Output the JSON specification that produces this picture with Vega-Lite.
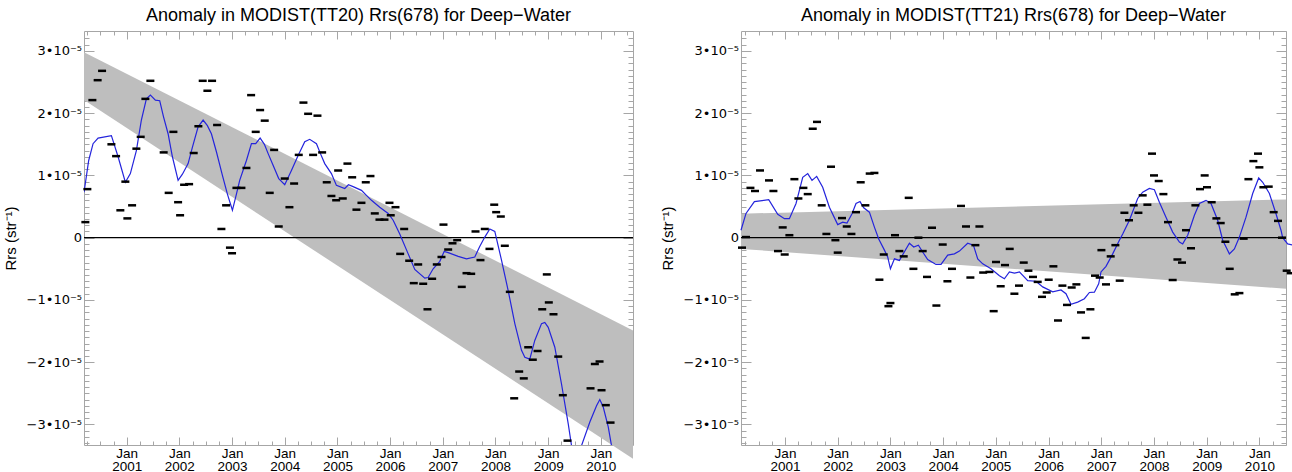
{
  "$schema": "https://vega.github.io/schema/vega-lite/v6.json",
  "padding": {"left": 3, "top": 6, "right": 4, "bottom": 0},
  "spacing": 26,
  "config": {
    "font": "Liberation Sans",
    "view": {"stroke": null},
    "title": {"font": "Liberation Sans", "fontSize": 18, "fontWeight": "normal", "color": "#000", "anchor": "middle", "frame": "group", "offset": 6},
    "axis": {"grid": false, "zindex": 1, "domainColor": "#a6a6a6", "tickColor": "#a6a6a6", "labelColor": "#000", "labelFont": "Liberation Sans", "labelFontSize": 13.5, "titleFont": "Liberation Sans", "titleFontSize": 15, "titleFontWeight": "normal", "titleColor": "#000", "labelOverlap": false, "labelFlush": false, "tickWidth": 1, "domainWidth": 1},
    "axisY": {"labelFont": "DejaVu Sans", "labelFontSize": 13}
  },
  "datasets": {
    "band20": [
      {"t": 2000.19, "lo": 2.21e-5, "hi": 2.98e-5},
      {"t": 2010.61, "lo": -3.55e-5, "hi": -1.49e-5}
    ],
    "band21": [
      {"t": 2000.165, "lo": -0.18e-5, "hi": 0.385e-5},
      {"t": 2010.505, "lo": -0.82e-5, "hi": 0.615e-5}
    ],
    "pts20": [
      {"t": 2000.216, "rrs": 0.25e-5}, {"t": 2000.254, "rrs": 0.78e-5}, {"t": 2000.349, "rrs": 2.21e-5}, {"t": 2000.449, "rrs": 2.53e-5}, {"t": 2000.533, "rrs": 2.68e-5}, {"t": 2000.710, "rrs": 1.50e-5}, {"t": 2000.799, "rrs": 1.31e-5}, {"t": 2000.880, "rrs": 0.44e-5}, {"t": 2000.975, "rrs": 0.90e-5}, {"t": 2001.013, "rrs": 0.31e-5},
      {"t": 2001.103, "rrs": 0.52e-5}, {"t": 2001.184, "rrs": 1.43e-5}, {"t": 2001.266, "rrs": 1.62e-5}, {"t": 2001.355, "rrs": 2.23e-5}, {"t": 2001.450, "rrs": 2.52e-5}, {"t": 2001.702, "rrs": 1.37e-5}, {"t": 2001.797, "rrs": 0.72e-5}, {"t": 2001.887, "rrs": 1.70e-5}, {"t": 2001.976, "rrs": 0.57e-5}, {"t": 2002.014, "rrs": 0.36e-5},
      {"t": 2002.090, "rrs": 0.85e-5}, {"t": 2002.185, "rrs": 0.86e-5}, {"t": 2002.272, "rrs": 1.36e-5}, {"t": 2002.361, "rrs": 1.79e-5}, {"t": 2002.443, "rrs": 2.52e-5}, {"t": 2002.532, "rrs": 2.36e-5}, {"t": 2002.621, "rrs": 2.52e-5}, {"t": 2002.716, "rrs": 1.81e-5}, {"t": 2002.798, "rrs": 0.14e-5}, {"t": 2002.887, "rrs": 0.52e-5},
      {"t": 2002.96, "rrs": -0.16e-5}, {"t": 2003.00, "rrs": -0.25e-5}, {"t": 2003.083, "rrs": 0.80e-5}, {"t": 2003.178, "rrs": 0.80e-5}, {"t": 2003.273, "rrs": 1.12e-5}, {"t": 2003.362, "rrs": 2.29e-5}, {"t": 2003.449, "rrs": 1.70e-5}, {"t": 2003.533, "rrs": 2.05e-5}, {"t": 2003.620, "rrs": 1.88e-5}, {"t": 2003.715, "rrs": 0.72e-5},
      {"t": 2003.799, "rrs": 1.41e-5}, {"t": 2003.886, "rrs": 0.18e-5}, {"t": 2004.000, "rrs": 0.95e-5}, {"t": 2004.089, "rrs": 0.49e-5}, {"t": 2004.178, "rrs": 0.87e-5}, {"t": 2004.266, "rrs": 1.33e-5}, {"t": 2004.355, "rrs": 2.17e-5}, {"t": 2004.444, "rrs": 1.99e-5}, {"t": 2004.539, "rrs": 1.33e-5}, {"t": 2004.621, "rrs": 1.96e-5},
      {"t": 2004.710, "rrs": 1.37e-5}, {"t": 2004.797, "rrs": 0.89e-5}, {"t": 2004.886, "rrs": 0.67e-5}, {"t": 2004.976, "rrs": 0.60e-5}, {"t": 2005.014, "rrs": 1.08e-5}, {"t": 2005.101, "rrs": 0.63e-5}, {"t": 2005.190, "rrs": 1.19e-5}, {"t": 2005.280, "rrs": 0.97e-5}, {"t": 2005.361, "rrs": 0.45e-5}, {"t": 2005.456, "rrs": 0.56e-5},
      {"t": 2005.538, "rrs": 0.89e-5}, {"t": 2005.627, "rrs": 0.99e-5}, {"t": 2005.709, "rrs": 0.39e-5}, {"t": 2005.798, "rrs": 0.29e-5}, {"t": 2005.893, "rrs": 0.29e-5}, {"t": 2005.988, "rrs": 0.56e-5}, {"t": 2006.012, "rrs": 0.36e-5}, {"t": 2006.102, "rrs": 0.49e-5}, {"t": 2006.191, "rrs": -0.26e-5}, {"t": 2006.267, "rrs": 0.14e-5},
      {"t": 2006.362, "rrs": -0.37e-5}, {"t": 2006.449, "rrs": -0.73e-5}, {"t": 2006.533, "rrs": -0.43e-5}, {"t": 2006.628, "rrs": -0.74e-5}, {"t": 2006.709, "rrs": -1.15e-5}, {"t": 2006.798, "rrs": -0.66e-5}, {"t": 2006.886, "rrs": -0.43e-5}, {"t": 2006.975, "rrs": -0.31e-5}, {"t": 2007.013, "rrs": 0.21e-5}, {"t": 2007.102, "rrs": -0.19e-5},
      {"t": 2007.184, "rrs": -0.09e-5}, {"t": 2007.273, "rrs": -0.04e-5}, {"t": 2007.360, "rrs": -0.79e-5}, {"t": 2007.450, "rrs": -0.57e-5}, {"t": 2007.539, "rrs": -0.58e-5}, {"t": 2007.621, "rrs": 0.10e-5}, {"t": 2007.715, "rrs": -0.36e-5}, {"t": 2007.797, "rrs": 0.14e-5}, {"t": 2007.886, "rrs": -0.18e-5}, {"t": 2007.976, "rrs": 0.53e-5},
      {"t": 2008.013, "rrs": 0.41e-5}, {"t": 2008.101, "rrs": 0.34e-5}, {"t": 2008.177, "rrs": -0.13e-5}, {"t": 2008.272, "rrs": -0.87e-5}, {"t": 2008.355, "rrs": -2.58e-5}, {"t": 2008.450, "rrs": -2.15e-5}, {"t": 2008.537, "rrs": -2.26e-5}, {"t": 2008.621, "rrs": -1.76e-5}, {"t": 2008.708, "rrs": -1.96e-5}, {"t": 2008.798, "rrs": -1.82e-5},
      {"t": 2008.887, "rrs": -1.15e-5}, {"t": 2008.974, "rrs": -0.59e-5}, {"t": 2009.012, "rrs": -1.04e-5}, {"t": 2009.101, "rrs": -1.23e-5}, {"t": 2009.191, "rrs": -1.91e-5}, {"t": 2009.278, "rrs": -2.53e-5}, {"t": 2009.367, "rrs": -3.26e-5}, {"t": 2009.804, "rrs": -2.42e-5}, {"t": 2009.886, "rrs": -2.03e-5}, {"t": 2009.975, "rrs": -1.99e-5},
      {"t": 2010.013, "rrs": -2.45e-5}, {"t": 2010.094, "rrs": -2.69e-5}, {"t": 2010.184, "rrs": -2.97e-5}
    ],
    "line20": [
      {"t": 2000.191, "rrs": 0.73e-5}, {"t": 2000.279, "rrs": 1.24e-5}, {"t": 2000.362, "rrs": 1.51e-5}, {"t": 2000.457, "rrs": 1.60e-5}, {"t": 2000.710, "rrs": 1.64e-5}, {"t": 2000.837, "rrs": 1.30e-5}, {"t": 2000.975, "rrs": 0.89e-5}, {"t": 2001.070, "rrs": 1.03e-5}, {"t": 2001.184, "rrs": 1.40e-5}, {"t": 2001.279, "rrs": 1.89e-5},
      {"t": 2001.374, "rrs": 2.23e-5}, {"t": 2001.450, "rrs": 2.29e-5}, {"t": 2001.545, "rrs": 2.21e-5}, {"t": 2001.627, "rrs": 2.20e-5}, {"t": 2001.697, "rrs": 1.95e-5}, {"t": 2001.786, "rrs": 1.67e-5}, {"t": 2001.868, "rrs": 1.30e-5}, {"t": 2001.976, "rrs": 0.92e-5}, {"t": 2002.058, "rrs": 1.02e-5}, {"t": 2002.166, "rrs": 1.19e-5},
      {"t": 2002.247, "rrs": 1.45e-5}, {"t": 2002.356, "rrs": 1.78e-5}, {"t": 2002.451, "rrs": 1.89e-5}, {"t": 2002.532, "rrs": 1.80e-5}, {"t": 2002.608, "rrs": 1.67e-5}, {"t": 2002.703, "rrs": 1.38e-5}, {"t": 2002.817, "rrs": 1.00e-5}, {"t": 2002.912, "rrs": 0.70e-5}, {"t": 2003.007, "rrs": 0.44e-5}, {"t": 2003.083, "rrs": 0.70e-5},
      {"t": 2003.145, "rrs": 0.92e-5}, {"t": 2003.273, "rrs": 1.24e-5}, {"t": 2003.368, "rrs": 1.51e-5}, {"t": 2003.449, "rrs": 1.51e-5}, {"t": 2003.533, "rrs": 1.60e-5}, {"t": 2003.614, "rrs": 1.50e-5}, {"t": 2003.685, "rrs": 1.35e-5}, {"t": 2003.785, "rrs": 1.15e-5}, {"t": 2003.886, "rrs": 0.95e-5}, {"t": 2004.000, "rrs": 0.85e-5},
      {"t": 2004.127, "rrs": 1.08e-5}, {"t": 2004.254, "rrs": 1.32e-5}, {"t": 2004.380, "rrs": 1.54e-5}, {"t": 2004.474, "rrs": 1.58e-5}, {"t": 2004.602, "rrs": 1.51e-5}, {"t": 2004.678, "rrs": 1.35e-5}, {"t": 2004.759, "rrs": 1.19e-5}, {"t": 2004.886, "rrs": 1.03e-5}, {"t": 2004.981, "rrs": 0.84e-5}, {"t": 2005.139, "rrs": 0.79e-5},
      {"t": 2005.209, "rrs": 0.85e-5}, {"t": 2005.298, "rrs": 0.82e-5}, {"t": 2005.456, "rrs": 0.76e-5}, {"t": 2005.551, "rrs": 0.68e-5}, {"t": 2005.646, "rrs": 0.60e-5}, {"t": 2005.803, "rrs": 0.49e-5}, {"t": 2005.963, "rrs": 0.39e-5}, {"t": 2006.058, "rrs": 0.28e-5}, {"t": 2006.183, "rrs": 0.06e-5}, {"t": 2006.343, "rrs": -0.26e-5},
      {"t": 2006.468, "rrs": -0.51e-5}, {"t": 2006.658, "rrs": -0.65e-5}, {"t": 2006.722, "rrs": -0.64e-5}, {"t": 2006.817, "rrs": -0.50e-5}, {"t": 2006.943, "rrs": -0.38e-5}, {"t": 2007.026, "rrs": -0.22e-5}, {"t": 2007.102, "rrs": -0.24e-5}, {"t": 2007.292, "rrs": -0.30e-5}, {"t": 2007.450, "rrs": -0.34e-5}, {"t": 2007.607, "rrs": -0.31e-5},
      {"t": 2007.696, "rrs": -0.15e-5}, {"t": 2007.797, "rrs": 0.01e-5}, {"t": 2007.892, "rrs": 0.14e-5}, {"t": 2007.987, "rrs": 0.10e-5}, {"t": 2008.114, "rrs": -0.36e-5}, {"t": 2008.241, "rrs": -0.85e-5}, {"t": 2008.367, "rrs": -1.38e-5}, {"t": 2008.494, "rrs": -1.81e-5}, {"t": 2008.557, "rrs": -1.92e-5}, {"t": 2008.651, "rrs": -1.95e-5},
      {"t": 2008.746, "rrs": -1.65e-5}, {"t": 2008.874, "rrs": -1.38e-5}, {"t": 2008.936, "rrs": -1.36e-5}, {"t": 2009.001, "rrs": -1.44e-5}, {"t": 2009.126, "rrs": -1.76e-5}, {"t": 2009.253, "rrs": -2.35e-5}, {"t": 2009.381, "rrs": -2.99e-5}, {"t": 2009.443, "rrs": -3.34e-5}, {"t": 2009.538, "rrs": -3.8e-5}, {"t": 2009.633, "rrs": -3.34e-5},
      {"t": 2009.791, "rrs": -2.96e-5}, {"t": 2009.918, "rrs": -2.70e-5}, {"t": 2009.980, "rrs": -2.60e-5}, {"t": 2010.045, "rrs": -2.72e-5}, {"t": 2010.140, "rrs": -3.04e-5}, {"t": 2010.202, "rrs": -3.34e-5}, {"t": 2010.279, "rrs": -3.6e-5}
    ],
    "pts21": [
      {"t": 2000.184, "rrs": -0.16e-5}, {"t": 2000.260, "rrs": 0.01e-5}, {"t": 2000.344, "rrs": 0.80e-5}, {"t": 2000.431, "rrs": 0.75e-5}, {"t": 2000.526, "rrs": 1.08e-5}, {"t": 2000.696, "rrs": 0.92e-5}, {"t": 2000.780, "rrs": 0.75e-5}, {"t": 2000.867, "rrs": -0.215e-5}, {"t": 2000.956, "rrs": 0.165e-5}, {"t": 2000.994, "rrs": -0.27e-5},
      {"t": 2001.083, "rrs": 0.04e-5}, {"t": 2001.178, "rrs": 0.94e-5}, {"t": 2001.254, "rrs": 0.63e-5}, {"t": 2001.349, "rrs": 0.80e-5}, {"t": 2001.431, "rrs": 0.70e-5}, {"t": 2001.526, "rrs": 1.75e-5}, {"t": 2001.607, "rrs": 1.86e-5}, {"t": 2001.696, "rrs": 0.52e-5}, {"t": 2001.785, "rrs": 0.06e-5}, {"t": 2001.873, "rrs": 1.14e-5},
      {"t": 2001.956, "rrs": -0.04e-5}, {"t": 2002.000, "rrs": -0.24e-5}, {"t": 2002.081, "rrs": 0.315e-5}, {"t": 2002.171, "rrs": 0.18e-5}, {"t": 2002.260, "rrs": 0.06e-5}, {"t": 2002.347, "rrs": 0.41e-5}, {"t": 2002.436, "rrs": 0.89e-5}, {"t": 2002.525, "rrs": 0.52e-5}, {"t": 2002.607, "rrs": 1.03e-5}, {"t": 2002.696, "rrs": 1.04e-5},
      {"t": 2002.791, "rrs": -0.675e-5}, {"t": 2002.873, "rrs": -0.27e-5}, {"t": 2002.962, "rrs": -1.10e-5}, {"t": 2003.000, "rrs": -1.05e-5}, {"t": 2003.087, "rrs": 0.04e-5}, {"t": 2003.170, "rrs": -0.215e-5}, {"t": 2003.252, "rrs": -0.30e-5}, {"t": 2003.347, "rrs": 0.64e-5}, {"t": 2003.436, "rrs": -0.50e-5}, {"t": 2003.531, "rrs": 0.0},
      {"t": 2003.612, "rrs": -0.215e-5}, {"t": 2003.694, "rrs": -0.63e-5}, {"t": 2003.789, "rrs": 0.16e-5}, {"t": 2003.872, "rrs": -1.09e-5}, {"t": 2003.992, "rrs": -0.11e-5}, {"t": 2004.081, "rrs": -0.70e-5}, {"t": 2004.168, "rrs": -0.50e-5}, {"t": 2004.339, "rrs": 0.51e-5}, {"t": 2004.434, "rrs": 0.18e-5}, {"t": 2004.517, "rrs": -0.64e-5},
      {"t": 2004.612, "rrs": -0.12e-5}, {"t": 2004.688, "rrs": 0.18e-5}, {"t": 2004.760, "rrs": -0.56e-5}, {"t": 2004.878, "rrs": -0.55e-5}, {"t": 2004.959, "rrs": -1.18e-5}, {"t": 2005.003, "rrs": -0.39e-5}, {"t": 2005.092, "rrs": -0.78e-5}, {"t": 2005.174, "rrs": -0.44e-5}, {"t": 2005.263, "rrs": -0.18e-5}, {"t": 2005.352, "rrs": -0.90e-5},
      {"t": 2005.439, "rrs": -0.77e-5}, {"t": 2005.529, "rrs": -0.40e-5}, {"t": 2005.618, "rrs": -0.53e-5}, {"t": 2005.705, "rrs": -0.63e-5}, {"t": 2005.794, "rrs": -0.71e-5}, {"t": 2005.876, "rrs": -0.95e-5}, {"t": 2005.965, "rrs": -0.88e-5}, {"t": 2006.003, "rrs": -0.675e-5}, {"t": 2006.092, "rrs": -0.46e-5}, {"t": 2006.179, "rrs": -1.33e-5},
      {"t": 2006.263, "rrs": -0.77e-5}, {"t": 2006.350, "rrs": -1.08e-5}, {"t": 2006.439, "rrs": -0.80e-5}, {"t": 2006.528, "rrs": -0.75e-5}, {"t": 2006.616, "rrs": -1.20e-5}, {"t": 2006.705, "rrs": -1.61e-5}, {"t": 2006.794, "rrs": -1.15e-5}, {"t": 2006.881, "rrs": -0.61e-5}, {"t": 2006.970, "rrs": -0.64e-5}, {"t": 2007.003, "rrs": -0.20e-5},
      {"t": 2007.090, "rrs": -0.75e-5}, {"t": 2007.179, "rrs": -0.30e-5}, {"t": 2007.268, "rrs": -0.12e-5}, {"t": 2007.350, "rrs": -0.69e-5}, {"t": 2007.439, "rrs": 0.40e-5}, {"t": 2007.526, "rrs": 0.28e-5}, {"t": 2007.615, "rrs": 0.52e-5}, {"t": 2007.705, "rrs": 0.40e-5}, {"t": 2007.786, "rrs": 0.68e-5}, {"t": 2007.875, "rrs": 0.53e-5},
      {"t": 2007.963, "rrs": 1.35e-5}, {"t": 2008.001, "rrs": 1.00e-5}, {"t": 2008.090, "rrs": 0.91e-5}, {"t": 2008.179, "rrs": 0.70e-5}, {"t": 2008.266, "rrs": 0.25e-5}, {"t": 2008.355, "rrs": -0.68e-5}, {"t": 2008.445, "rrs": -0.35e-5}, {"t": 2008.532, "rrs": -0.40e-5}, {"t": 2008.608, "rrs": 0.12e-5}, {"t": 2008.703, "rrs": -0.17e-5},
      {"t": 2008.786, "rrs": 0.52e-5}, {"t": 2008.873, "rrs": 0.78e-5}, {"t": 2008.962, "rrs": 1.00e-5}, {"t": 2009.006, "rrs": 0.81e-5}, {"t": 2009.095, "rrs": 0.57e-5}, {"t": 2009.184, "rrs": 0.31e-5}, {"t": 2009.266, "rrs": 0.235e-5}, {"t": 2009.355, "rrs": -0.065e-5}, {"t": 2009.437, "rrs": -0.50e-5}, {"t": 2009.532, "rrs": -0.91e-5},
      {"t": 2009.621, "rrs": -0.89e-5}, {"t": 2009.702, "rrs": -0.015e-5}, {"t": 2009.792, "rrs": 0.94e-5}, {"t": 2009.886, "rrs": 1.23e-5}, {"t": 2009.974, "rrs": 1.35e-5}, {"t": 2010.000, "rrs": 1.13e-5}, {"t": 2010.076, "rrs": 0.81e-5}, {"t": 2010.177, "rrs": 0.82e-5}, {"t": 2010.271, "rrs": 0.41e-5}, {"t": 2010.353, "rrs": 0.27e-5},
      {"t": 2010.429, "rrs": 0.0}, {"t": 2010.518, "rrs": -0.53e-5}, {"t": 2010.594, "rrs": -0.57e-5}
    ],
    "line21": [
      {"t": 2000.165, "rrs": 0.12e-5}, {"t": 2000.260, "rrs": 0.39e-5}, {"t": 2000.419, "rrs": 0.58e-5}, {"t": 2000.691, "rrs": 0.61e-5}, {"t": 2000.862, "rrs": 0.375e-5}, {"t": 2000.989, "rrs": 0.305e-5}, {"t": 2001.083, "rrs": 0.305e-5}, {"t": 2001.209, "rrs": 0.55e-5}, {"t": 2001.336, "rrs": 0.97e-5}, {"t": 2001.431, "rrs": 1.03e-5},
      {"t": 2001.512, "rrs": 0.92e-5}, {"t": 2001.601, "rrs": 0.985e-5}, {"t": 2001.715, "rrs": 0.81e-5}, {"t": 2001.842, "rrs": 0.49e-5}, {"t": 2002.000, "rrs": 0.21e-5}, {"t": 2002.095, "rrs": 0.25e-5}, {"t": 2002.176, "rrs": 0.235e-5}, {"t": 2002.271, "rrs": 0.385e-5}, {"t": 2002.347, "rrs": 0.55e-5}, {"t": 2002.423, "rrs": 0.58e-5},
      {"t": 2002.493, "rrs": 0.48e-5}, {"t": 2002.601, "rrs": 0.41e-5}, {"t": 2002.696, "rrs": 0.17e-5}, {"t": 2002.778, "rrs": -0.02e-5}, {"t": 2002.886, "rrs": -0.20e-5}, {"t": 2002.948, "rrs": -0.31e-5}, {"t": 2003.000, "rrs": -0.50e-5}, {"t": 2003.076, "rrs": -0.34e-5}, {"t": 2003.170, "rrs": -0.365e-5}, {"t": 2003.360, "rrs": -0.09e-5},
      {"t": 2003.442, "rrs": -0.15e-5}, {"t": 2003.531, "rrs": -0.12e-5}, {"t": 2003.612, "rrs": -0.23e-5}, {"t": 2003.707, "rrs": -0.35e-5}, {"t": 2003.865, "rrs": -0.43e-5}, {"t": 2003.960, "rrs": -0.43e-5}, {"t": 2004.087, "rrs": -0.28e-5}, {"t": 2004.214, "rrs": -0.26e-5}, {"t": 2004.309, "rrs": -0.215e-5}, {"t": 2004.466, "rrs": -0.09e-5},
      {"t": 2004.574, "rrs": -0.12e-5}, {"t": 2004.656, "rrs": -0.34e-5}, {"t": 2004.751, "rrs": -0.42e-5}, {"t": 2004.908, "rrs": -0.50e-5}, {"t": 2005.068, "rrs": -0.61e-5}, {"t": 2005.162, "rrs": -0.66e-5}, {"t": 2005.257, "rrs": -0.55e-5}, {"t": 2005.352, "rrs": -0.57e-5}, {"t": 2005.447, "rrs": -0.55e-5}, {"t": 2005.605, "rrs": -0.69e-5},
      {"t": 2005.762, "rrs": -0.70e-5}, {"t": 2005.889, "rrs": -0.79e-5}, {"t": 2006.079, "rrs": -0.87e-5}, {"t": 2006.236, "rrs": -0.84e-5}, {"t": 2006.331, "rrs": -0.90e-5}, {"t": 2006.426, "rrs": -1.07e-5}, {"t": 2006.553, "rrs": -1.035e-5}, {"t": 2006.680, "rrs": -0.98e-5}, {"t": 2006.775, "rrs": -0.88e-5}, {"t": 2006.870, "rrs": -0.875e-5},
      {"t": 2006.951, "rrs": -0.74e-5}, {"t": 2006.995, "rrs": -0.55e-5}, {"t": 2007.090, "rrs": -0.46e-5}, {"t": 2007.217, "rrs": -0.26e-5}, {"t": 2007.344, "rrs": -0.04e-5}, {"t": 2007.407, "rrs": 0.06e-5}, {"t": 2007.534, "rrs": 0.28e-5}, {"t": 2007.691, "rrs": 0.63e-5}, {"t": 2007.786, "rrs": 0.73e-5}, {"t": 2007.913, "rrs": 0.79e-5},
      {"t": 2008.008, "rrs": 0.77e-5}, {"t": 2008.103, "rrs": 0.57e-5}, {"t": 2008.228, "rrs": 0.33e-5}, {"t": 2008.355, "rrs": 0.09e-5}, {"t": 2008.483, "rrs": -0.07e-5}, {"t": 2008.545, "rrs": -0.10e-5}, {"t": 2008.640, "rrs": 0.04e-5}, {"t": 2008.767, "rrs": 0.36e-5}, {"t": 2008.862, "rrs": 0.55e-5}, {"t": 2008.987, "rrs": 0.60e-5},
      {"t": 2009.082, "rrs": 0.55e-5}, {"t": 2009.209, "rrs": 0.28e-5}, {"t": 2009.304, "rrs": -0.04e-5}, {"t": 2009.367, "rrs": -0.15e-5}, {"t": 2009.431, "rrs": -0.26e-5}, {"t": 2009.526, "rrs": -0.18e-5}, {"t": 2009.621, "rrs": 0.01e-5}, {"t": 2009.746, "rrs": 0.33e-5}, {"t": 2009.873, "rrs": 0.71e-5}, {"t": 2009.987, "rrs": 0.96e-5},
      {"t": 2010.063, "rrs": 0.89e-5}, {"t": 2010.190, "rrs": 0.71e-5}, {"t": 2010.315, "rrs": 0.385e-5}, {"t": 2010.410, "rrs": 0.12e-5}, {"t": 2010.442, "rrs": 0.0}, {"t": 2010.537, "rrs": -0.10e-5}, {"t": 2010.632, "rrs": -0.12e-5}
    ]
  },
  "hconcat": [
    {
      "width": 549,
      "height": 414,
      "title": {"text": "Anomaly in MODIST(TT20) Rrs(678) for Deep−Water"},
      "resolve": {"axis": {"x": "independent", "y": "independent"}},
      "layer": [
        {
          "data": {"name": "band20"},
          "mark": {"type": "area", "color": "#bebebe", "opacity": 1, "clip": false},
          "encoding": {
            "x": {"field": "t", "type": "quantitative", "scale": {"domain": [2000.19, 2010.61], "nice": false, "zero": false},
              "axis": {"orient": "bottom", "title": null, "values": [2000.25, 2000.5, 2000.75, 2001, 2001.25, 2001.5, 2001.75, 2002, 2002.25, 2002.5, 2002.75, 2003, 2003.25, 2003.5, 2003.75, 2004, 2004.25, 2004.5, 2004.75, 2005, 2005.25, 2005.5, 2005.75, 2006, 2006.25, 2006.5, 2006.75, 2007, 2007.25, 2007.5, 2007.75, 2008, 2008.25, 2008.5, 2008.75, 2009, 2009.25, 2009.5, 2009.75, 2010, 2010.25, 2010.5],
                "labelExpr": "abs(datum.value - round(datum.value)) < 0.01 ? ['Jan', '' + round(datum.value)] : ''",
                "tickSize": {"condition": {"test": "abs(datum.value - round(datum.value)) < 0.01", "value": -8}, "value": -4},
                "labelPadding": 9.5, "labelLineHeight": 12.5, "labelBaseline": "top"}},
            "y": {"field": "lo", "type": "quantitative", "scale": {"domain": [-3.33e-5, 3.32e-5], "nice": false, "zero": false},
              "axis": {"orient": "left", "title": "Rrs (str⁻¹)", "titlePadding": 8,
                "values": [-33e-6, -32e-6, -31e-6, -30e-6, -29e-6, -28e-6, -27e-6, -26e-6, -25e-6, -24e-6, -23e-6, -22e-6, -21e-6, -20e-6, -19e-6, -18e-6, -17e-6, -16e-6, -15e-6, -14e-6, -13e-6, -12e-6, -11e-6, -10e-6, -9e-6, -8e-6, -7e-6, -6e-6, -5e-6, -4e-6, -3e-6, -2e-6, -1e-6, 0, 1e-6, 2e-6, 3e-6, 4e-6, 5e-6, 6e-6, 7e-6, 8e-6, 9e-6, 10e-6, 11e-6, 12e-6, 13e-6, 14e-6, 15e-6, 16e-6, 17e-6, 18e-6, 19e-6, 20e-6, 21e-6, 22e-6, 23e-6, 24e-6, 25e-6, 26e-6, 27e-6, 28e-6, 29e-6, 30e-6, 31e-6, 32e-6],
                "labelExpr": "abs(datum.value*1e5 - round(datum.value*1e5)) < 0.01 ? (round(datum.value*1e5) == 0 ? '0' : (datum.value < 0 ? '−' : '') + abs(round(datum.value*1e5)) + '•10⁻⁵') : ''",
                "tickSize": {"condition": {"test": "abs(datum.value*1e5 - round(datum.value*1e5)) < 0.01", "value": -10}, "value": -5},
                "labelPadding": 12.5}},
            "y2": {"field": "hi"}
          }
        },
        {
          "data": {"values": [{}]},
          "mark": {"type": "rule", "color": "#000", "strokeWidth": 1.3},
          "encoding": {"y": {"datum": 0, "type": "quantitative", "scale": {"domain": [-3.33e-5, 3.32e-5], "nice": false, "zero": false}, "axis": null}}
        },
        {
          "data": {"name": "line20"},
          "mark": {"type": "line", "color": "#2424dc", "strokeWidth": 1.2, "clip": true},
          "encoding": {
            "x": {"field": "t", "type": "quantitative", "scale": {"domain": [2000.19, 2010.61], "nice": false, "zero": false}, "axis": null},
            "y": {"field": "rrs", "type": "quantitative", "scale": {"domain": [-3.33e-5, 3.32e-5], "nice": false, "zero": false}, "axis": null}
          }
        },
        {
          "data": {"name": "pts20"},
          "mark": {"type": "tick", "orient": "horizontal", "size": 8, "thickness": 2.5, "color": "#000", "opacity": 1},
          "encoding": {
            "x": {"field": "t", "type": "quantitative", "scale": {"domain": [2000.19, 2010.61], "nice": false, "zero": false},
              "axis": {"orient": "top", "title": null, "labels": false, "values": [2000.25, 2000.5, 2000.75, 2001, 2001.25, 2001.5, 2001.75, 2002, 2002.25, 2002.5, 2002.75, 2003, 2003.25, 2003.5, 2003.75, 2004, 2004.25, 2004.5, 2004.75, 2005, 2005.25, 2005.5, 2005.75, 2006, 2006.25, 2006.5, 2006.75, 2007, 2007.25, 2007.5, 2007.75, 2008, 2008.25, 2008.5, 2008.75, 2009, 2009.25, 2009.5, 2009.75, 2010, 2010.25, 2010.5],
                "tickSize": {"condition": {"test": "abs(datum.value - round(datum.value)) < 0.01", "value": -8}, "value": -4}}},
            "y": {"field": "rrs", "type": "quantitative", "scale": {"domain": [-3.33e-5, 3.32e-5], "nice": false, "zero": false},
              "axis": {"orient": "right", "title": null, "labels": false,
                "values": [-33e-6, -32e-6, -31e-6, -30e-6, -29e-6, -28e-6, -27e-6, -26e-6, -25e-6, -24e-6, -23e-6, -22e-6, -21e-6, -20e-6, -19e-6, -18e-6, -17e-6, -16e-6, -15e-6, -14e-6, -13e-6, -12e-6, -11e-6, -10e-6, -9e-6, -8e-6, -7e-6, -6e-6, -5e-6, -4e-6, -3e-6, -2e-6, -1e-6, 0, 1e-6, 2e-6, 3e-6, 4e-6, 5e-6, 6e-6, 7e-6, 8e-6, 9e-6, 10e-6, 11e-6, 12e-6, 13e-6, 14e-6, 15e-6, 16e-6, 17e-6, 18e-6, 19e-6, 20e-6, 21e-6, 22e-6, 23e-6, 24e-6, 25e-6, 26e-6, 27e-6, 28e-6, 29e-6, 30e-6, 31e-6, 32e-6],
                "tickSize": {"condition": {"test": "abs(datum.value*1e5 - round(datum.value*1e5)) < 0.01", "value": -10}, "value": -5}}}
          }
        }
      ]
    },
    {
      "width": 545,
      "height": 414,
      "title": {"text": "Anomaly in MODIST(TT21) Rrs(678) for Deep−Water"},
      "resolve": {"axis": {"x": "independent", "y": "independent"}},
      "layer": [
        {
          "data": {"name": "band21"},
          "mark": {"type": "area", "color": "#bebebe", "opacity": 1, "clip": false},
          "encoding": {
            "x": {"field": "t", "type": "quantitative", "scale": {"domain": [2000.165, 2010.505], "nice": false, "zero": false},
              "axis": {"orient": "bottom", "title": null, "values": [2000.25, 2000.5, 2000.75, 2001, 2001.25, 2001.5, 2001.75, 2002, 2002.25, 2002.5, 2002.75, 2003, 2003.25, 2003.5, 2003.75, 2004, 2004.25, 2004.5, 2004.75, 2005, 2005.25, 2005.5, 2005.75, 2006, 2006.25, 2006.5, 2006.75, 2007, 2007.25, 2007.5, 2007.75, 2008, 2008.25, 2008.5, 2008.75, 2009, 2009.25, 2009.5, 2009.75, 2010, 2010.25, 2010.5],
                "labelExpr": "abs(datum.value - round(datum.value)) < 0.01 ? ['Jan', '' + round(datum.value)] : ''",
                "tickSize": {"condition": {"test": "abs(datum.value - round(datum.value)) < 0.01", "value": -8}, "value": -4},
                "labelPadding": 9.5, "labelLineHeight": 12.5, "labelBaseline": "top"}},
            "y": {"field": "lo", "type": "quantitative", "scale": {"domain": [-3.33e-5, 3.32e-5], "nice": false, "zero": false},
              "axis": {"orient": "left", "title": "Rrs (str⁻¹)", "titlePadding": 8,
                "values": [-33e-6, -32e-6, -31e-6, -30e-6, -29e-6, -28e-6, -27e-6, -26e-6, -25e-6, -24e-6, -23e-6, -22e-6, -21e-6, -20e-6, -19e-6, -18e-6, -17e-6, -16e-6, -15e-6, -14e-6, -13e-6, -12e-6, -11e-6, -10e-6, -9e-6, -8e-6, -7e-6, -6e-6, -5e-6, -4e-6, -3e-6, -2e-6, -1e-6, 0, 1e-6, 2e-6, 3e-6, 4e-6, 5e-6, 6e-6, 7e-6, 8e-6, 9e-6, 10e-6, 11e-6, 12e-6, 13e-6, 14e-6, 15e-6, 16e-6, 17e-6, 18e-6, 19e-6, 20e-6, 21e-6, 22e-6, 23e-6, 24e-6, 25e-6, 26e-6, 27e-6, 28e-6, 29e-6, 30e-6, 31e-6, 32e-6],
                "labelExpr": "abs(datum.value*1e5 - round(datum.value*1e5)) < 0.01 ? (round(datum.value*1e5) == 0 ? '0' : (datum.value < 0 ? '−' : '') + abs(round(datum.value*1e5)) + '•10⁻⁵') : ''",
                "tickSize": {"condition": {"test": "abs(datum.value*1e5 - round(datum.value*1e5)) < 0.01", "value": -10}, "value": -5},
                "labelPadding": 12.5}},
            "y2": {"field": "hi"}
          }
        },
        {
          "data": {"values": [{}]},
          "mark": {"type": "rule", "color": "#000", "strokeWidth": 1.3},
          "encoding": {"y": {"datum": 0, "type": "quantitative", "scale": {"domain": [-3.33e-5, 3.32e-5], "nice": false, "zero": false}, "axis": null}}
        },
        {
          "data": {"name": "line21"},
          "mark": {"type": "line", "color": "#2424dc", "strokeWidth": 1.2, "clip": false},
          "encoding": {
            "x": {"field": "t", "type": "quantitative", "scale": {"domain": [2000.165, 2010.505], "nice": false, "zero": false}, "axis": null},
            "y": {"field": "rrs", "type": "quantitative", "scale": {"domain": [-3.33e-5, 3.32e-5], "nice": false, "zero": false}, "axis": null}
          }
        },
        {
          "data": {"name": "pts21"},
          "mark": {"type": "tick", "orient": "horizontal", "size": 8, "thickness": 2.5, "color": "#000", "opacity": 1},
          "encoding": {
            "x": {"field": "t", "type": "quantitative", "scale": {"domain": [2000.165, 2010.505], "nice": false, "zero": false},
              "axis": {"orient": "top", "title": null, "labels": false, "values": [2000.25, 2000.5, 2000.75, 2001, 2001.25, 2001.5, 2001.75, 2002, 2002.25, 2002.5, 2002.75, 2003, 2003.25, 2003.5, 2003.75, 2004, 2004.25, 2004.5, 2004.75, 2005, 2005.25, 2005.5, 2005.75, 2006, 2006.25, 2006.5, 2006.75, 2007, 2007.25, 2007.5, 2007.75, 2008, 2008.25, 2008.5, 2008.75, 2009, 2009.25, 2009.5, 2009.75, 2010, 2010.25, 2010.5],
                "tickSize": {"condition": {"test": "abs(datum.value - round(datum.value)) < 0.01", "value": -8}, "value": -4}}},
            "y": {"field": "rrs", "type": "quantitative", "scale": {"domain": [-3.33e-5, 3.32e-5], "nice": false, "zero": false},
              "axis": {"orient": "right", "title": null, "labels": false,
                "values": [-33e-6, -32e-6, -31e-6, -30e-6, -29e-6, -28e-6, -27e-6, -26e-6, -25e-6, -24e-6, -23e-6, -22e-6, -21e-6, -20e-6, -19e-6, -18e-6, -17e-6, -16e-6, -15e-6, -14e-6, -13e-6, -12e-6, -11e-6, -10e-6, -9e-6, -8e-6, -7e-6, -6e-6, -5e-6, -4e-6, -3e-6, -2e-6, -1e-6, 0, 1e-6, 2e-6, 3e-6, 4e-6, 5e-6, 6e-6, 7e-6, 8e-6, 9e-6, 10e-6, 11e-6, 12e-6, 13e-6, 14e-6, 15e-6, 16e-6, 17e-6, 18e-6, 19e-6, 20e-6, 21e-6, 22e-6, 23e-6, 24e-6, 25e-6, 26e-6, 27e-6, 28e-6, 29e-6, 30e-6, 31e-6, 32e-6],
                "tickSize": {"condition": {"test": "abs(datum.value*1e5 - round(datum.value*1e5)) < 0.01", "value": -10}, "value": -5}}}
          }
        }
      ]
    }
  ]
}
